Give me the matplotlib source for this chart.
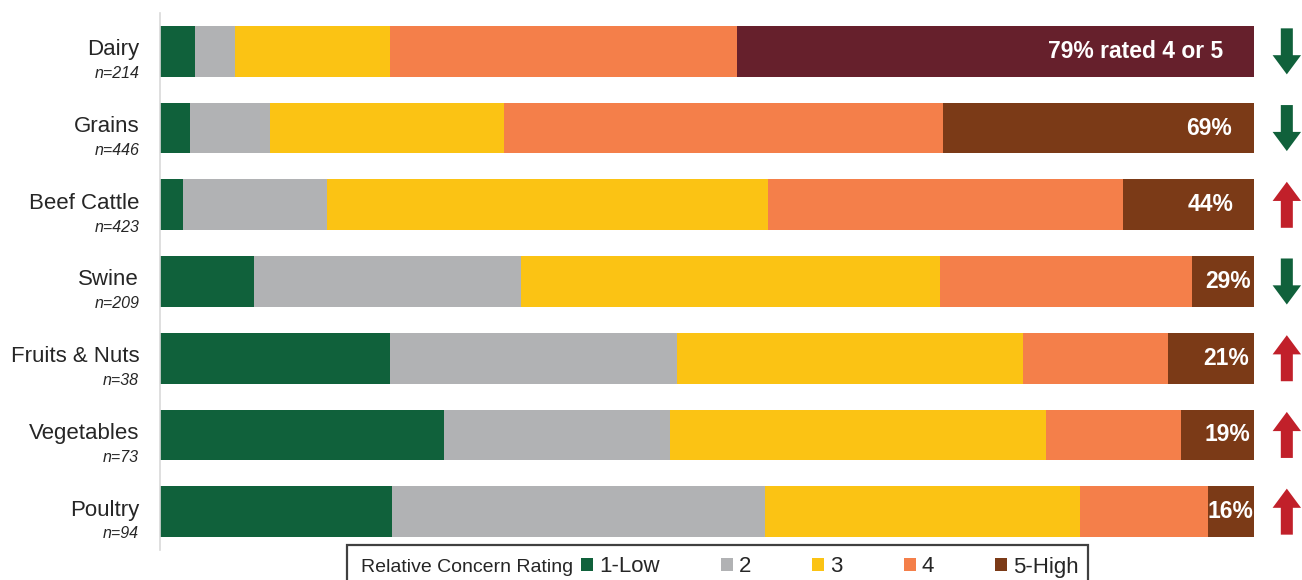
import matplotlib
matplotlib.use("Agg")
import matplotlib.pyplot as plt
from matplotlib.patches import Polygon, Rectangle, Patch

plt.rcParams['font.family'] = ['Liberation Sans', 'DejaVu Sans']

categories = ["Dairy", "Grains", "Beef Cattle", "Swine", "Fruits & Nuts", "Vegetables", "Poultry"]
n_labels = ["n=214", "n=446", "n=423", "n=209", "n=38", "n=73", "n=94"]
rating_labels = ["1-Low", "2", "3", "4", "5-High"]
r1 = [3.2, 2.7, 2.1, 8.6, 21.0, 26.0, 21.2]
r2 = [3.7, 7.4, 13.2, 24.4, 26.3, 20.6, 34.1]
r3 = [14.1, 21.3, 40.3, 38.3, 31.6, 34.4, 28.8]
r4 = [31.7, 40.2, 32.4, 23.0, 13.2, 12.3, 11.7]
r5 = [47.3, 28.4, 12.0, 5.7, 7.9, 6.8, 4.2]
pct_labels = ["79% rated 4 or 5", "69%", "44%", "29%", "21%", "19%", "16%"]
trend = ["down", "down", "up", "down", "up", "up", "up"]

colors = ["#10613B", "#B1B2B4", "#FBC314", "#F47F4A", "#7B3A17"]
dairy_top_color = "#66202C"
arrow_colors = {"down": "#10613B", "up": "#C1202A"}
label_right = [97.2, 98.0, 98.1, 99.7, 99.5, 99.7, 99.9]

fig = plt.figure(figsize=(13.02, 5.8), dpi=100)
W, H = 1302, 580
ax = fig.add_axes([160 / W, (H - 550) / H, 1094 / W, 537 / H])

series = [r1, r2, r3, r4, r5]
ypos = list(range(len(categories)))
left = [0.0] * len(categories)
for k, vals in enumerate(series):
    cols = [colors[k]] * len(categories)
    if k == 4:
        cols[0] = dairy_top_color
    ax.barh(ypos, vals, left=left, height=0.66, color=cols, linewidth=0)
    left = [a + b for a, b in zip(left, vals)]

ax.set_xlim(0, 100)
ax.set_ylim(6.5, -0.5)
ax.set_xticks([])
ax.set_yticks([])
for s in ["top", "right", "bottom"]:
    ax.spines[s].set_visible(False)
ax.spines["left"].set_color("#D9D9D9")
ax.spines["left"].set_linewidth(1.2)

for i, (cat, n) in enumerate(zip(categories, n_labels)):
    ax.text(-1.9, i - 0.02, cat, ha="right", va="center", fontsize=16, color="#262626")
    ax.text(-1.9, i + 0.29, n, ha="right", va="center", fontsize=11.5, style="italic", color="#262626")
    ax.text(label_right[i], i, pct_labels[i], ha="right", va="center", fontsize=16.5,
            fontweight="bold", color="white")

# trend arrows
xc = 103.0
shaft_hw = 0.55
head_hw = 1.3
half_len = 0.30
head_len = 0.25
for i, d in enumerate(trend):
    s = 1 if d == "down" else -1  # +1 = downward on inverted axis
    tail = i - s * half_len
    tip = i + s * half_len
    neck = tip - s * head_len
    verts = [(xc - shaft_hw, tail), (xc + shaft_hw, tail), (xc + shaft_hw, neck),
             (xc + head_hw, neck), (xc, tip), (xc - head_hw, neck), (xc - shaft_hw, neck)]
    ax.add_patch(Polygon(verts, closed=True, color=arrow_colors[d], clip_on=False, linewidth=0))

# legend box
fig.patches.append(Rectangle((347 / W, (H - 598) / H), (1088 - 347) / W, 53 / H,
                             transform=fig.transFigure, fill=False, edgecolor="#404040",
                             linewidth=1.6))
fig.text(361 / W, 1 - 567 / H, "Relative Concern Rating", ha="left", va="center",
         fontsize=14, color="#262626")
handles = [Patch(facecolor=c, edgecolor="none") for c in colors]
fig.legend(handles, rating_labels, ncol=5, frameon=False, loc="center left",
           bbox_to_anchor=(581 / W, 1 - 567 / H), fontsize=16, handlelength=0.55,
           handleheight=0.55, handletextpad=0.27, columnspacing=2.74, borderpad=0,
           borderaxespad=0, labelcolor="#262626")

fig.savefig("out.png", dpi=100)
